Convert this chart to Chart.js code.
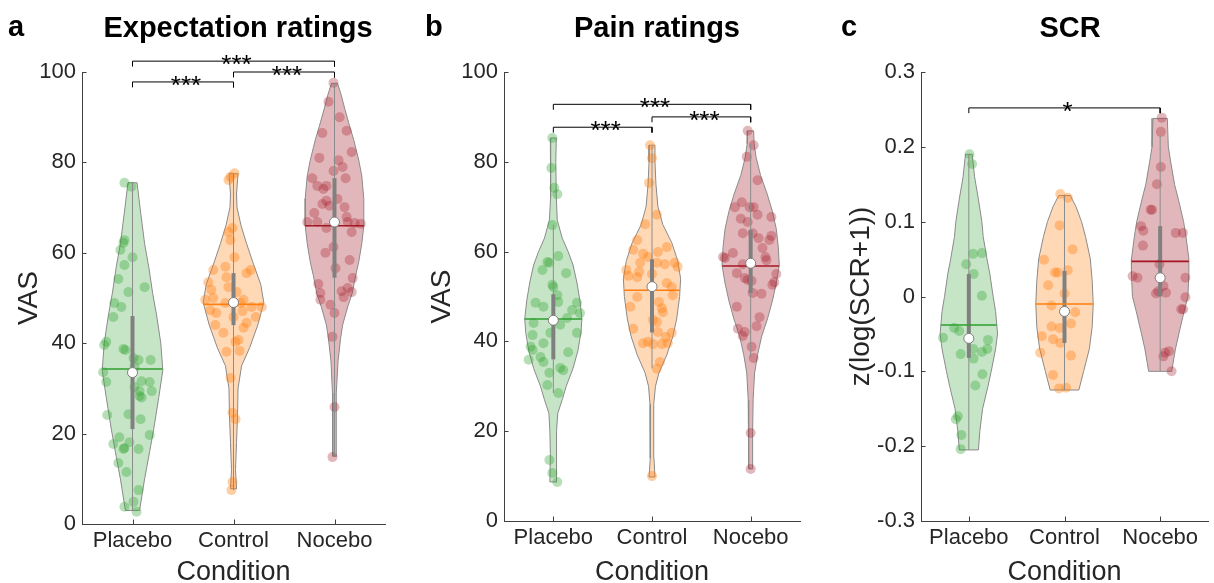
<!DOCTYPE html>
<html><head><meta charset="utf-8">
<script src="https://cdn.jsdelivr.net/npm/chart.js@4.4.1/dist/chart.umd.min.js"></script>
<style>
html,body{margin:0;padding:0;background:#fff;}
#wrap{position:relative;width:1214px;height:583px;overflow:hidden;font-family:"Liberation Sans",Arial,sans-serif;background:#fff;}
canvas{position:absolute;top:0;}
.lbl{position:absolute;font-weight:bold;color:#000;line-height:1;white-space:nowrap;font-size:29px;}
.ttl{position:absolute;width:400px;text-align:center;font-weight:bold;color:#000;line-height:1;white-space:nowrap;font-size:29px;}
</style></head><body>
<div id="wrap">
<canvas id="ca" width="400" height="583" style="left:0px;width:400px;height:583px"></canvas>
<canvas id="cb" width="400" height="583" style="left:410px;width:400px;height:583px"></canvas>
<canvas id="cc" width="394" height="583" style="left:820px;width:394px;height:583px"></canvas>
<div class="lbl" style="left:8px;top:12px">a</div>
<div class="ttl" style="left:38px;top:12.5px">Expectation ratings</div>
<div class="lbl" style="left:425px;top:12px">b</div>
<div class="ttl" style="left:457px;top:12.5px">Pain ratings</div>
<div class="lbl" style="left:841px;top:12px">c</div>
<div class="ttl" style="left:870px;top:12.5px">SCR</div>
</div>
<script>
// ---------- data ----------
const categories = ['Placebo', 'Control', 'Nocebo'];
const vasTickLabels = ['0', '20', '40', '60', '80', '100'];
const scrTickLabels = ['-0.3', '-0.2', '-0.1', '0', '0.1', '0.2', '0.3'];

// a: Expectation ratings — individual values and horizontal jitter (category units)
const expPlaceboVals = [75.5,74.6,62.8,62.2,60.6,59.0,57.3,54.2,52.4,51.3,48.9,48.0,45.8,40.3,39.6,38.7,38.5,36.7,36.3,36.3,34.7,33.6,31.4,31.6,31.4,30.3,29.4,29.4,28.3,28.0,24.3,24.1,23.2,19.7,19.2,18.1,17.7,16.8,16.6,16.6,13.5,11.5,7.5,4.9,3.8,2.7];
const expPlaceboJit  = [-0.08,-0.01,-0.08,-0.09,-0.12,0.00,-0.08,-0.14,0.12,-0.04,-0.18,-0.11,-0.19,-0.26,-0.28,-0.09,-0.07,0.01,0.06,0.18,0.02,-0.29,-0.26,0.09,0.17,0.02,0.07,0.19,0.07,0.09,-0.04,-0.25,0.08,0.17,-0.13,-0.03,-0.19,-0.08,-0.09,0.06,-0.14,-0.06,0.06,0.01,-0.08,0.04];
const expControlVals = [77.6,76.8,76.1,65.5,64.6,62.8,59.0,56.9,56.2,56.2,55.5,54.6,53.5,51.8,52.4,51.3,49.6,50.0,49.6,48.9,48.9,48.0,48.0,47.3,46.7,47.1,45.8,45.8,44.0,44.5,43.4,42.3,40.7,40.3,38.1,38.3,32.3,24.6,23.2,9.3,7.5];
const expControlJit  = [0.01,-0.03,-0.05,-0.01,-0.05,-0.03,0.01,-0.08,-0.20,0.17,0.13,-0.07,-0.25,-0.22,-0.05,0.03,-0.28,-0.20,0.10,-0.08,0.07,0.18,0.28,-0.23,-0.17,0.09,0.22,0.00,-0.18,0.13,0.10,-0.10,0.05,0.02,-0.07,0.06,-0.03,-0.01,0.02,-0.01,-0.02];
const expNoceboVals  = [97.6,93.4,90.0,86.5,87.0,82.3,81.0,80.5,79.0,78.1,76.5,76.5,74.8,74.1,74.8,71.9,71.5,70.8,70.4,70.1,68.8,67.9,66.8,66.8,66.8,66.6,66.4,65.5,64.6,61.3,60.0,58.4,56.6,54.4,53.1,51.1,52.2,51.5,51.3,49.6,50.2,48.5,46.7,41.4,25.9,14.8];
const expNoceboJit   = [-0.01,-0.06,0.05,-0.12,0.12,0.17,-0.15,0.04,0.08,-0.01,0.11,-0.22,-0.17,-0.11,-0.08,0.03,-0.08,-0.12,-0.05,0.10,-0.20,0.12,-0.27,-0.17,0.13,0.20,0.26,-0.08,0.17,-0.01,-0.09,0.15,0.01,0.18,-0.16,-0.14,0.13,0.07,0.17,-0.14,0.09,-0.04,0.00,-0.02,0.00,-0.02];

// b: Pain ratings
const painPlaceboVals = [85.3,78.6,74.2,72.8,65.9,59.0,57.7,57.5,55.9,55.2,52.6,52.1,50.3,48.6,47.7,48.8,48.6,47.0,46.3,45.2,44.1,43.7,41.9,41.9,41.4,39.6,38.8,38.1,37.6,36.5,35.9,35.4,34.1,33.6,33.0,30.3,28.5,13.6,10.7,8.7];
const painPlaceboJit  = [-0.01,-0.02,0.01,0.04,-0.01,0.05,-0.06,-0.04,-0.11,0.13,-0.01,0.00,0.04,-0.18,-0.10,0.05,0.24,0.19,0.27,0.14,-0.20,0.07,-0.03,0.24,-0.21,-0.10,-0.23,-0.21,0.15,-0.13,-0.25,-0.10,0.07,0.10,-0.04,-0.06,0.05,-0.04,-0.01,0.04];
const painControlVals = [83.7,80.8,75.3,68.2,66.1,62.6,61.0,60.4,59.9,59.5,58.8,57.5,57.5,57.2,57.5,56.6,55.9,55.5,55.0,54.6,54.3,53.0,52.1,50.3,49.9,48.8,47.7,47.4,46.5,44.8,44.3,42.8,42.1,41.9,41.0,39.9,39.6,39.6,39.4,39.4,35.4,33.9,10.0];
const painControlJit  = [-0.02,0.00,-0.03,0.05,-0.07,-0.15,0.15,-0.19,0.06,-0.09,-0.04,-0.12,0.05,0.13,0.23,0.26,-0.26,-0.13,0.00,-0.24,-0.15,0.15,0.20,0.21,-0.15,0.07,-0.22,0.10,0.11,0.01,0.05,-0.19,0.06,0.20,0.14,-0.04,-0.09,0.16,0.01,0.10,0.08,0.05,0.00];
const painNoceboVals  = [86.9,83.7,81.1,75.9,71.0,69.9,69.9,69.9,68.2,67.7,67.3,66.6,64.1,64.1,63.5,63.0,62.6,60.8,59.7,58.8,58.8,58.6,58.1,57.2,55.2,55.0,54.1,53.7,53.5,53.2,52.6,50.8,50.6,47.7,45.4,43.4,42.8,42.1,41.2,38.8,36.3,19.6,11.6];
const painNoceboJit   = [-0.03,0.03,-0.04,0.07,-0.09,-0.16,-0.01,0.03,0.07,0.21,-0.10,-0.03,-0.08,0.02,0.21,0.08,0.19,0.12,-0.18,0.15,-0.28,-0.26,0.16,-0.08,-0.14,0.26,-0.06,-0.03,0.01,0.24,0.22,0.02,0.11,-0.14,0.09,0.06,-0.13,-0.06,-0.08,0.01,0.03,0.00,0.00];

// c: SCR, z(log(SCR+1))
const scrPlaceboVals = [0.190,0.177,0.057,0.058,0.043,0.030,0.001,-0.042,-0.046,-0.055,-0.058,-0.077,-0.070,-0.074,-0.070,-0.083,-0.104,-0.119,-0.164,-0.160,-0.185,-0.204];
const scrPlaceboJit  = [0.007,0.034,0.044,0.136,-0.027,0.050,0.136,-0.153,-0.100,-0.270,0.200,-0.085,0.044,0.136,0.193,0.050,0.142,0.068,-0.136,-0.115,-0.078,-0.085];
const scrControlVals = [0.137,0.132,0.095,0.049,0.063,0.032,0.032,0.035,0.015,0.004,-0.012,-0.021,-0.040,-0.042,-0.036,-0.053,-0.057,-0.062,-0.075,-0.079,-0.105,-0.123,-0.122];
const scrControlJit  = [-0.044,0.034,-0.050,-0.214,0.085,-0.100,-0.070,0.034,-0.170,0.000,-0.136,0.112,-0.136,-0.050,0.068,-0.237,-0.120,-0.044,-0.254,0.068,-0.120,-0.058,0.017];
const scrNoceboVals  = [0.239,0.220,0.173,0.150,0.116,0.116,0.094,0.088,0.085,0.085,0.068,0.027,0.025,0.025,0.043,0.014,0.004,0.007,0.005,-0.001,-0.017,-0.017,-0.075,-0.073,-0.080,-0.100];
const scrNoceboJit   = [0.017,0.007,0.007,-0.034,-0.100,-0.085,-0.200,-0.176,0.163,0.237,-0.180,-0.288,-0.237,0.264,-0.007,0.034,-0.044,-0.020,0.061,0.264,0.220,0.240,0.051,0.092,0.034,0.119];

// violin outlines: levels (value axis) and half-widths (category units)
const expPlaceboLevels = [3,10,16,21,28,34,40,46,51,57,62,69,75.5];
const expPlaceboHalfW  = [0.07,0.12,0.17,0.21,0.26,0.30,0.28,0.24,0.20,0.16,0.12,0.08,0.045];
const expControlLevels = [7.8,12,18,24,30,35,39,44,49,53,58,62,66,70,73,77.5];
const expControlHalfW  = [0.03,0.02,0.03,0.04,0.045,0.08,0.16,0.24,0.30,0.27,0.19,0.13,0.075,0.035,0.03,0.045];
const expNoceboLevels  = [15,22,29,36,41,44,48,51,55,58,62,66,72,77,80.5,85,88,92,95,97.5];
const expNoceboHalfW   = [0.02,0.015,0.02,0.035,0.06,0.08,0.13,0.175,0.21,0.24,0.27,0.29,0.29,0.27,0.24,0.19,0.15,0.10,0.065,0.03];
const painPlaceboLevels = [8.7,15,20,24,27,30,34,38,42,45,49,53,57,60,63,67,72,80,85.3];
const painPlaceboHalfW  = [0.035,0.03,0.035,0.045,0.09,0.13,0.20,0.25,0.28,0.29,0.27,0.24,0.20,0.15,0.09,0.04,0.03,0.025,0.03];
const painControlLevels = [9.8,14,20,26,30,33,37,41,45,50,54,58,62,66,70,75,80,83.7];
const painControlHalfW  = [0.03,0.02,0.015,0.02,0.035,0.07,0.15,0.21,0.25,0.28,0.29,0.26,0.20,0.11,0.06,0.04,0.03,0.03];
const painNoceboLevels  = [11.6,20,27,33,37,41,45,49,53,57,61,65,69,73,77,81,84,86.9];
const painNoceboHalfW   = [0.02,0.02,0.025,0.04,0.07,0.11,0.17,0.22,0.26,0.29,0.28,0.26,0.22,0.165,0.10,0.055,0.035,0.03];
const scrPlaceboLevels = [-0.205,-0.18,-0.15,-0.12,-0.1,-0.07,-0.05,-0.02,0,0.03,0.05,0.08,0.1,0.13,0.16,0.19];
const scrPlaceboHalfW  = [0.10,0.115,0.144,0.20,0.234,0.28,0.30,0.28,0.254,0.22,0.19,0.15,0.136,0.10,0.06,0.035];
const scrControlLevels = [-0.125,-0.1,-0.07,-0.04,-0.01,0.02,0.05,0.08,0.1,0.12,0.135];
const scrControlHalfW  = [0.15,0.20,0.26,0.29,0.30,0.29,0.27,0.22,0.178,0.12,0.06];
const scrNoceboLevels  = [-0.1,-0.07,-0.05,-0.02,0,0.03,0.05,0.08,0.1,0.13,0.15,0.18,0.2,0.238];
const scrNoceboHalfW   = [0.12,0.16,0.195,0.25,0.29,0.30,0.30,0.27,0.245,0.19,0.15,0.11,0.085,0.075];

// summary stats: [whisker low, Q1, median, Q3, whisker high, mean]
const expPlaceboStats  = [3, 21, 33.5, 46, 75.5, 34.3];
const expControlStats  = [7.5, 44, 49, 55.5, 77.5, 48.6];
const expNoceboStats   = [15, 54.5, 66.8, 76.5, 97.5, 66.0];
const painPlaceboStats = [28.5, 36, 44.7, 50.5, 66, 45.0];
const painControlStats = [34, 42, 52.2, 58.3, 83.5, 51.4];
const painNoceboStats  = [36.5, 50.8, 57.4, 64.8, 84, 56.8];
const scrPlaceboStats  = [-0.205, -0.082, -0.056, 0.03, 0.19, -0.038];
const scrControlStats  = [-0.125, -0.062, -0.02, 0.034, 0.135, -0.01];
const scrNoceboStats   = [-0.1, 0.0, 0.025, 0.094, 0.215, 0.047];

// significance comparisons (category pairs) and labels
const expPairs = [[1, 2], [2, 3], [1, 3]];
const expStars = ['***', '***', '***'];
const painPairs = [[1, 2], [2, 3], [1, 3]];
const painStars = ['***', '***', '***'];
const scrPairs = [[1, 3]];
const scrStars = ['*'];

// ---------- styling / layout ----------
const FONT = '"Liberation Sans", Arial, Helvetica, sans-serif';
const AXIS = '#404040';
const TEXT = '#262626';
const palette = [
  {fill: 'rgba(44,160,44,0.27)',  pt: 'rgba(44,160,44,0.34)',  mean: 'rgb(44,160,44)'},
  {fill: 'rgba(255,127,14,0.30)', pt: 'rgba(255,127,14,0.38)', mean: 'rgb(255,127,14)'},
  {fill: 'rgba(165,30,45,0.32)',  pt: 'rgba(165,30,45,0.32)',  mean: 'rgb(165,22,35)'}
];

function polygon(c, levels, hw) {
  const right = levels.map((l, i) => ({x: c + hw[i], y: l}));
  const left = levels.map((l, i) => ({x: c - hw[i], y: l})).reverse();
  return right.concat(left, [right[0]]);
}
function widthAt(levels, hw, v) {
  for (let i = 0; i < levels.length - 1; i++) {
    if (v >= levels[i] && v <= levels[i + 1]) {
      const t = (v - levels[i]) / (levels[i + 1] - levels[i]);
      return hw[i] + t * (hw[i + 1] - hw[i]);
    }
  }
  return hw[0];
}

const inTicks = {
  id: 'inTicks',
  afterDraw(chart) {
    const {ctx, chartArea: a, scales: {x, y}} = chart;
    ctx.save();
    ctx.strokeStyle = AXIS; ctx.lineWidth = 1;
    ctx.beginPath();
    x.ticks.forEach(t => { const p = Math.round(x.getPixelForValue(t.value)) + 0.5; ctx.moveTo(p, a.bottom); ctx.lineTo(p, a.bottom - 4.5); });
    y.ticks.forEach(t => { const p = Math.round(y.getPixelForValue(t.value)) + 0.5; ctx.moveTo(a.left, p); ctx.lineTo(a.left + 4.5, p); });
    ctx.stroke();
    ctx.restore();
  }
};
const starsPlugin = {
  id: 'stars',
  afterDatasetsDraw(chart, args, opts) {
    const {ctx, scales: {x, y}} = chart;
    ctx.save();
    ctx.fillStyle = '#000';
    ctx.font = '26px ' + FONT;
    ctx.textAlign = 'center';
    ctx.textBaseline = 'alphabetic';
    opts.pairs.forEach((p, i) => {
      const px = (x.getPixelForValue(p[0]) + x.getPixelForValue(p[1])) / 2 + 3;
      const py = y.getPixelForValue(opts.heights[i]) + 12;
      ctx.fillText(opts.labels[i], px, py);
    });
    ctx.restore();
  }
};

function makePanel(cfg) {
  const datasets = [];
  cfg.groups.forEach((g, i) => {
    const c = i + 1, col = palette[i];
    const [wLo, q1, med, q3, wHi, mean] = g.stats;
    datasets.push({type: 'line', data: polygon(c, g.levels, g.halfW), fill: 'shape',
      backgroundColor: col.fill, borderColor: '#8a8a8a', borderWidth: 1, pointRadius: 0, tension: 0, order: 10});
    datasets.push({type: 'scatter', data: g.vals.map((v, k) => ({x: c + g.jit[k], y: v})),
      backgroundColor: col.pt, borderWidth: 0, pointRadius: 5, order: 9});
    datasets.push({type: 'line', data: [{x: c, y: wLo}, {x: c, y: wHi}], borderColor: '#8c8c8c', borderWidth: 1, pointRadius: 0, fill: false, order: 8});
    datasets.push({type: 'line', data: [{x: c, y: q1}, {x: c, y: q3}], borderColor: '#808080', borderWidth: 4, borderCapStyle: 'butt', pointRadius: 0, fill: false, order: 7});
    const mw = widthAt(g.levels, g.halfW, mean);
    datasets.push({type: 'line', data: [{x: c - mw, y: mean}, {x: c + mw, y: mean}], borderColor: col.mean, borderWidth: 1.6, pointRadius: 0, fill: false, order: 6});
    datasets.push({type: 'scatter', data: [{x: c, y: med}], backgroundColor: '#fff', borderColor: '#7a7a7a', borderWidth: 1, pointRadius: 5, order: 5});
  });
  cfg.pairs.forEach((p, i) => {
    const h = cfg.bracketY[i], d = cfg.drop;
    datasets.push({type: 'line', data: [{x: p[0], y: h - d}, {x: p[0], y: h}, {x: p[1], y: h}, {x: p[1], y: h - d}],
      borderColor: '#000', borderWidth: 1, pointRadius: 0, fill: false, clip: false, order: 0});
  });
  const yVals = cfg.yLabels.map(Number);
  return new Chart(document.getElementById(cfg.id), {
    data: {datasets},
    options: {
      responsive: false, animation: false, events: [],
      layout: {padding: {top: cfg.top, right: cfg.right, left: 0, bottom: 0}},
      plugins: {legend: {display: false}, tooltip: {enabled: false},
        stars: {pairs: cfg.pairs, labels: cfg.stars, heights: cfg.bracketY}},
      scales: {
        x: {type: 'linear', position: 'bottom', min: 0.5, max: 3.5,
          afterBuildTicks: s => { s.ticks = [1, 2, 3].map(v => ({value: v})); },
          afterFit: s => { s.height = cfg.xH; },
          ticks: {callback: (v, k) => categories[k], font: {family: FONT, size: 22}, color: TEXT, padding: 4, maxRotation: 0, autoSkip: false},
          grid: {display: false, drawTicks: false},
          border: {display: true, color: AXIS, width: 1},
          title: {display: true, text: 'Condition', font: {family: FONT, size: 27, lineHeight: 0.8}, color: TEXT, padding: {top: 0, bottom: 0}}
        },
        y: {type: 'linear', position: 'left', min: yVals[0], max: yVals[yVals.length - 1],
          afterBuildTicks: s => { s.ticks = yVals.map(v => ({value: v})); },
          afterFit: s => { s.width = cfg.yW; },
          ticks: {callback: (v, k) => cfg.yLabels[k], font: {family: FONT, size: 22}, color: TEXT, padding: 6, autoSkip: false},
          grid: {display: false, drawTicks: false},
          border: {display: true, color: AXIS, width: 1},
          title: {display: true, text: cfg.yTitle, font: {family: FONT, size: 28, lineHeight: 1.2}, color: TEXT, padding: {top: cfg.yTitlePad, bottom: 0}}
        }
      }
    },
    plugins: [inTicks, starsPlugin]
  });
}

makePanel({id: 'ca', top: 72, right: 15, yW: 82, xH: 59, yTitlePad: 12, yTitle: 'VAS', yLabels: vasTickLabels,
  groups: [
    {vals: expPlaceboVals, jit: expPlaceboJit, levels: expPlaceboLevels, halfW: expPlaceboHalfW, stats: expPlaceboStats},
    {vals: expControlVals, jit: expControlJit, levels: expControlLevels, halfW: expControlHalfW, stats: expControlStats},
    {vals: expNoceboVals, jit: expNoceboJit, levels: expNoceboLevels, halfW: expNoceboHalfW, stats: expNoceboStats}],
  pairs: expPairs, stars: expStars, bracketY: [97.8, 100, 102.4], drop: 1.2});

makePanel({id: 'cb', top: 72, right: 10, yW: 94, xH: 62, yTitlePad: 15, yTitle: 'VAS', yLabels: vasTickLabels,
  groups: [
    {vals: painPlaceboVals, jit: painPlaceboJit, levels: painPlaceboLevels, halfW: painPlaceboHalfW, stats: painPlaceboStats},
    {vals: painControlVals, jit: painControlJit, levels: painControlLevels, halfW: painControlHalfW, stats: painControlStats},
    {vals: painNoceboVals, jit: painNoceboJit, levels: painNoceboLevels, halfW: painNoceboHalfW, stats: painNoceboStats}],
  pairs: painPairs, stars: painStars, bracketY: [87.7, 90, 92.8], drop: 1.2});

makePanel({id: 'cc', top: 72, right: 0, yW: 101, xH: 62, yTitlePad: 24, yTitle: 'z(log(SCR+1))', yLabels: scrTickLabels,
  groups: [
    {vals: scrPlaceboVals, jit: scrPlaceboJit, levels: scrPlaceboLevels, halfW: scrPlaceboHalfW, stats: scrPlaceboStats},
    {vals: scrControlVals, jit: scrControlJit, levels: scrControlLevels, halfW: scrControlHalfW, stats: scrControlStats},
    {vals: scrNoceboVals, jit: scrNoceboJit, levels: scrNoceboLevels, halfW: scrNoceboHalfW, stats: scrNoceboStats}],
  pairs: scrPairs, stars: scrStars, bracketY: [0.252], drop: 0.007});
</script>
</body></html>
